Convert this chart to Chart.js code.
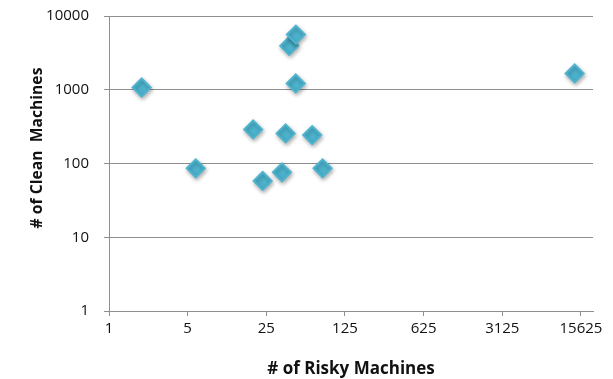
<!DOCTYPE html>
<html>
<head>
<meta charset="utf-8">
<script src="https://cdn.jsdelivr.net/npm/chart.js@4"></script>
<style>
  html, body { margin: 0; padding: 0; background: #fff; }
  #wrap { width: 613px; height: 379px; }
</style>
</head>
<body>
<div id="wrap"><canvas id="scatterChart" width="613" height="379"></canvas></div>
<script>
// Values
const riskyMachines = [1.95, 5.9, 19.1, 23.2, 34.4, 37.1, 39.9, 45.8, 45.6, 63.9, 79, 13740];
const cleanMachines = [1074, 86, 290, 58, 76, 256, 3935, 5600, 1217, 243, 86, 1663];
const xTicks = [1, 5, 25, 125, 625, 3125, 15625];
const yTicks = [1, 10, 100, 1000, 10000];

const points = riskyMachines.map((x, i) => ({ x: x, y: cleanMachines[i] }));

const gridGray = '#8f8f8f';
const textColor = '#111';
const fontFamily = '"Open Sans", Lato, sans-serif';

// soft drop shadow under the markers, like the original
const markerShadow = {
  id: 'markerShadow',
  beforeDatasetsDraw(chart) {
    const ctx = chart.ctx;
    ctx.save();
    ctx.shadowColor = 'rgba(0, 0, 0, 0.3)';
    ctx.shadowBlur = 4;
    ctx.shadowOffsetX = 1;
    ctx.shadowOffsetY = 2;
  },
  afterDatasetsDraw(chart) {
    chart.ctx.restore();
  }
};

// y axis title, placed by hand (original sits a bit above centre)
const yTitle = {
  id: 'yTitle',
  afterDraw(chart) {
    const ctx = chart.ctx;
    ctx.save();
    ctx.translate(38, 148);
    ctx.rotate(-Math.PI / 2);
    ctx.font = 'bold 15.7px ' + fontFamily;
    ctx.fillStyle = textColor;
    ctx.textAlign = 'center';
    ctx.textBaseline = 'middle';
    ctx.fillText('# of Clean  Machines', 0, 0);
    ctx.restore();
  }
};

const ctx = document.getElementById('scatterChart').getContext('2d');
const chart = new Chart(ctx, {
  type: 'scatter',
  data: {
    datasets: [{
      label: 'Machines',
      data: points,
      pointStyle: 'rectRot',
      pointRadius: 9,
      pointHoverRadius: 9,
      backgroundColor: '#4db3ce',
      borderColor: '#4db3ce',
      borderWidth: 2
    }]
  },
  options: {
    responsive: false,
    animation: false,
    layout: { padding: { top: 16, right: 20, left: 0, bottom: 0 } },
    plugins: {
      legend: { display: false },
      tooltip: { enabled: false }
    },
    scales: {
      x: {
        type: 'logarithmic',
        min: 1,
        max: 20000,
        afterBuildTicks: (scale) => { scale.ticks = xTicks.map(v => ({ value: v })); },
        afterFit: (scale) => {
          scale.height = 68;
          scale.paddingLeft = 0;
          scale.paddingRight = 0;
        },
        ticks: {
          color: textColor,
          font: { family: fontFamily, size: 15 },
          padding: 4,
          maxRotation: 0,
          autoSkip: false,
          callback: (v) => String(v)
        },
        grid: {
          drawOnChartArea: false,
          drawTicks: true,
          tickLength: 5,
          color: gridGray
        },
        border: { display: true, color: gridGray, width: 1 },
        title: {
          display: true,
          text: '# of Risky Machines',
          color: textColor,
          font: { family: fontFamily, size: 17, weight: 'bold' },
          padding: { top: 0, bottom: 0 }
        }
      },
      y: {
        type: 'logarithmic',
        min: 1,
        max: 10000,
        afterBuildTicks: (scale) => { scale.ticks = yTicks.map(v => ({ value: v })); },
        afterFit: (scale) => {
          scale.width = 109;
          scale.paddingTop = 0;
          scale.paddingBottom = 0;
        },
        ticks: {
          color: textColor,
          font: { family: fontFamily, size: 15 },
          padding: 15,
          autoSkip: false,
          callback: (v) => String(v)
        },
        grid: {
          drawOnChartArea: true,
          drawTicks: true,
          tickLength: 5,
          color: gridGray
        },
        border: { display: true, color: gridGray, width: 1 }
      }
    }
  },
  plugins: [markerShadow, yTitle]
});
</script>
</body>
</html>
